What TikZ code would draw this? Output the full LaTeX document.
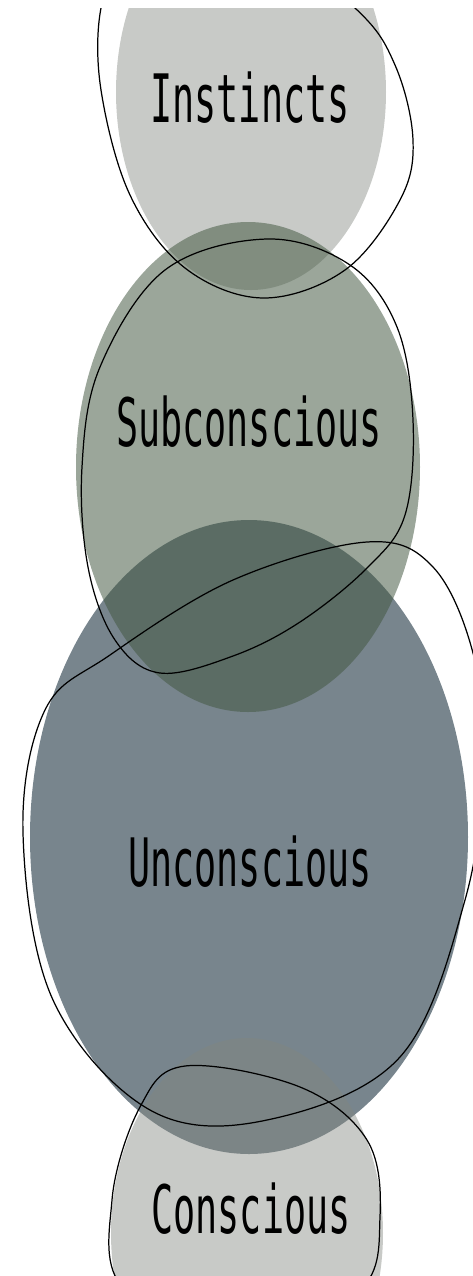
\documentclass[tikz,border=0pt]{standalone}
\usepackage{fontspec}
\usepackage{tikz}
\newfontfamily\psyfont[FakeStretch=0.55]{DejaVu Sans Mono}
\definecolor{instgrey}{RGB}{200,202,199}
\definecolor{subgreen}{RGB}{66,87,64}
\definecolor{uncslate}{RGB}{120,133,141}
\definecolor{congrey}{RGB}{130,134,127}
\tikzset{
  loopline/.style={black, line width=0.7pt, smooth cycle, tension=0.6},
  layertext/.style={font=\psyfont\fontsize{38}{40}\selectfont, inner sep=0pt}
}

\begin{document}
\begin{tikzpicture}[x=0.02cm, y=-0.02cm]
    \useasboundingbox (0,0) rectangle (473,1276);
    \clip (0,8) rectangle (473,1276);
    % filled layers
    \fill[instgrey] (251,92) ellipse [x radius=135, y radius=198];
    \fill[uncslate] (249,837) ellipse [x radius=219, y radius=317];
    \fill[subgreen, opacity=0.53] (248,467) ellipse [x radius=172, y radius=245];
    \fill[congrey, opacity=0.44] (247,1233) ellipse [x radius=136, y radius=195];
    % hand drawn outlines
    \draw[loopline] plot coordinates {(101,8) (101,90) (130,195) (185,268) (263,298) (345,270)
      (400,200) (413,140) (395,65) (355,8) (250,-70) (125,-35)};
    \draw[loopline] plot coordinates {(267,239) (350,265) (397,327) (413,420) (405,515) (367,568)
      (300,622) (233,656) (160,673) (115,640) (88,567) (82,467) (100,367) (165,270)};
    \draw[loopline] plot coordinates {(367,542) (433,567) (473,653) (484,760) (465,900)
      (400,1057) (267,1120) (150,1110) (53,1000) (23,833) (45,710) (110,655) (233,580)};
    \draw[loopline] plot coordinates {(185,1066) (300,1087) (367,1140) (380,1217) (360,1290)
      (250,1335) (125,1290) (112,1200) (140,1107)};
    % labels
    \node (instincts) at (250,98) [layertext] {Instincts};
    \node (subconscious) at (249,422) [layertext] {Subconscious};
    \node (unconscious) at (250,862) [layertext] {Unconscious};
    \node (conscious) at (251,1209) [layertext] {Conscious};
\end{tikzpicture}
\end{document}
